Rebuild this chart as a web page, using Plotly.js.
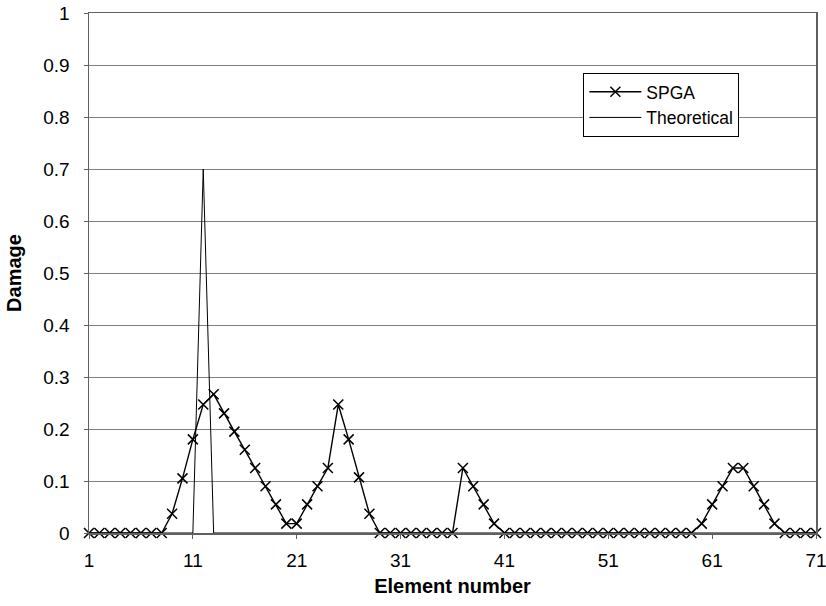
<!DOCTYPE html>
<html>
<head>
<meta charset="utf-8">
<script src="https://cdn.plot.ly/plotly-3.0.1.min.js"></script>
<style>html,body{margin:0;padding:0;background:#fff;}#chart{width:826px;height:606px;}</style>
</head>
<body>
<div id="chart"></div>
<script>
const elements = Array.from({length: 71}, (_, i) => i + 1);
const spga = [
  0, 0, 0, 0, 0, 0, 0, 0, 0.037, 0.105,
  0.18, 0.247, 0.267, 0.23, 0.195, 0.16, 0.125, 0.09, 0.055, 0.018,
  0.018, 0.055, 0.09, 0.125, 0.247, 0.18, 0.107, 0.037, 0, 0,
  0, 0, 0, 0, 0, 0, 0.125, 0.09, 0.055, 0.018,
  0, 0, 0, 0, 0, 0, 0, 0, 0, 0,
  0, 0, 0, 0, 0, 0, 0, 0, 0, 0.018,
  0.055, 0.09, 0.125, 0.125, 0.09, 0.055, 0.018, 0, 0, 0,
  0
];
const theoretical = elements.map(e => (e === 12 ? 0.7 : 0));
const xTicks = [1, 11, 21, 31, 41, 51, 61, 71];
const yTicks = [0, 0.1, 0.2, 0.3, 0.4, 0.5, 0.6, 0.7, 0.8, 0.9, 1];
const yTickText = ['0', '0.1', '0.2', '0.3', '0.4', '0.5', '0.6', '0.7', '0.8', '0.9', '1'];

const traces = [
  {
    x: elements, y: spga, name: 'SPGA', type: 'scatter', mode: 'lines+markers',
    line: {color: '#000', width: 1.4},
    marker: {symbol: 'x-thin', size: 10, color: '#000', line: {color: '#000', width: 1.5}},
    cliponaxis: false
  },
  {
    x: elements, y: theoretical, name: 'Theoretical', type: 'scatter', mode: 'lines',
    line: {color: '#000', width: 1},
    cliponaxis: false
  }
];

const fam = 'Arial, "Liberation Sans", sans-serif';
const tickFont = {family: fam, size: 19, color: '#000'};
const titleFont = {family: fam, size: 20, color: '#000'};
const layout = {
  width: 826, height: 606,
  margin: {l: 89, r: 10, t: 13, b: 73},
  paper_bgcolor: '#fff', plot_bgcolor: '#fff',
  font: tickFont,
  showlegend: true,
  legend: {
    x: 0.68, y: 0.885, xanchor: 'left', yanchor: 'top',
    bgcolor: '#fff', bordercolor: '#000', borderwidth: 1,
    font: {family: fam, size: 17.5, color: '#000'},
    itemwidth: 52,
    tracegroupgap: 0
  },
  xaxis: {
    range: [1, 71], tickvals: xTicks, ticktext: xTicks.map(String),
    showgrid: false, zeroline: false,
    showline: true, linecolor: '#606060', linewidth: 1.5, mirror: true,
    ticks: 'outside', ticklen: 4, tickcolor: '#606060',
    ticklabelstandoff: 6,
    ticklabeloverflow: 'allow',
    title: {text: '<b>Element number</b>', font: titleFont, standoff: 8},
    tickfont: tickFont
  },
  yaxis: {
    range: [0, 1], tickvals: yTicks, ticktext: yTickText,
    showgrid: true, gridcolor: '#808080', gridwidth: 1, zeroline: false,
    showline: true, linecolor: '#606060', linewidth: 1.5, mirror: true,
    ticks: 'outside', ticklen: 4, tickcolor: '#606060',
    ticklabelstandoff: 10,
    ticklabeloverflow: 'allow',
    title: {text: '<b>Damage</b>', font: titleFont, standoff: 16},
    tickfont: tickFont
  }
};

Plotly.newPlot('chart', traces, layout, {displayModeBar: false, staticPlot: true});
</script>
</body>
</html>
